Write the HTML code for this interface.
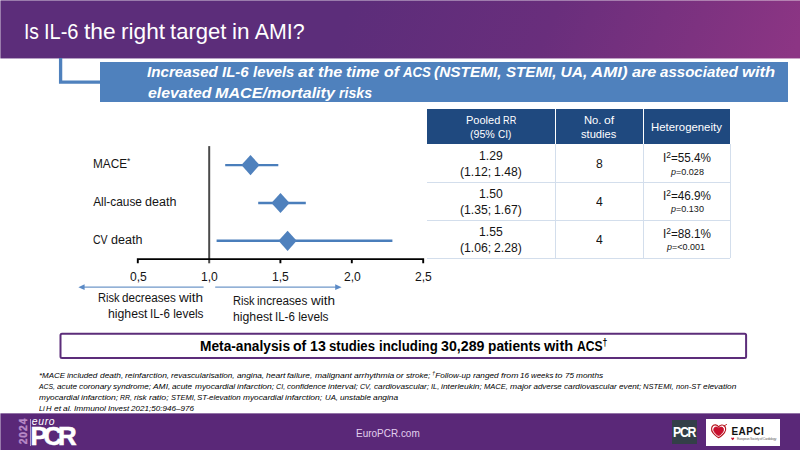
<!DOCTYPE html>
<html lang="en"><head><meta charset="utf-8"><title>Is IL-6 the right target in AMI?</title>
<style>
html,body{margin:0;padding:0;background:#fff;}
body{width:800px;height:450px;overflow:hidden;font-family:"Liberation Sans",sans-serif;}
#slide{position:relative;width:800px;height:450px;overflow:hidden;background:#fff;}
.t{position:absolute;white-space:nowrap;line-height:1;font-family:"Liberation Sans",sans-serif;transform-origin:0 50%;}
.w{position:absolute;top:0;white-space:nowrap;transform-origin:0 50%;}
.t sup{font-size:72%;vertical-align:baseline;position:relative;top:-0.5em;line-height:0;}
.a{position:absolute;}

</style></head><body>
<div id="slide">
<!-- header -->
<div class="a" style="left:0;top:0;width:800px;height:58px;background:linear-gradient(112deg,#5c2d7a 0%,#5c2d7a 43%,#692e7c 68%,#7d3280 86%,#8c3584 99%);"></div>
<div class="a" style="left:0;top:58px;width:800px;height:1px;background:linear-gradient(112deg,#5c2d7a 0%,#5c2d7a 43%,#692e7c 68%,#7d3280 86%,#8c3584 99%);opacity:.45;"></div>
<div class="a" style="left:0;top:0;width:800px;height:1px;background:rgba(255,255,255,.38);"></div>
<div class="a" style="left:0;top:0;width:1px;height:59px;background:rgba(255,255,255,.38);"></div>
<!-- subtitle bar -->
<div class="a" style="left:100px;top:62px;width:688px;height:40px;background:#4f81bd;"></div>
<!-- vector layer: connector, forest plot, arrows, box -->
<svg class="a" style="left:0;top:0" width="800" height="450" viewBox="0 0 800 450">
  <path d="M60.6 58V82.1H100.5" fill="none" stroke="#4f81bd" stroke-width="3.3"/>
  <line x1="209.2" y1="146.1" x2="209.2" y2="263.3" stroke="#4a4a4a" stroke-width="2"/>
  <path d="M137.8 263.3V259.1H423.2V263.3 M280.4 259.1V263.3 M351.8 259.1V263.3" fill="none" stroke="#000" stroke-width="1.9"/>
  <g stroke="#4a7ebb" stroke-width="2.4">
    <line x1="225.2" y1="165.1" x2="278.3" y2="165.1"/>
    <line x1="258.2" y1="203" x2="305.8" y2="203"/>
    <line x1="216.6" y1="240.8" x2="392.4" y2="240.8"/>
  </g>
  <g fill="#4f81bd">
    <path d="M250.5 155.0L259.6 165.1L250.5 175.2L241.4 165.1Z"/>
    <path d="M280.5 192.9L289.6 203L280.5 213.1L271.4 203Z"/>
    <path d="M287.6 230.7L296.7 240.8L287.6 250.9L278.5 240.8Z"/>
  </g>
  <g stroke="#6f97c9" stroke-width="1.2">
    <line x1="83" y1="287.2" x2="203.6" y2="287.2"/>
    <line x1="215.2" y1="287.2" x2="336" y2="287.2"/>
  </g>
  <path d="M78.4 287.2L84.6 284.3V290.1Z M341.6 287.2L335.2 284.3V290.1Z" fill="#5b8ac6"/>
  <rect x="60.5" y="333.8" width="685.6" height="24.2" rx="1.5" fill="#fff" stroke="#5c2d7a" stroke-width="2"/>
</svg>
<!-- table -->
<div class="a" style="left:427px;top:109px;width:303.2px;height:34.7px;background:#1f497f;"></div>
<div class="a" style="left:555px;top:109px;width:1px;height:34.7px;background:#fff;"></div>
<div class="a" style="left:642.6px;top:109px;width:1px;height:34.7px;background:#fff;"></div>
<div class="a" style="left:427px;top:182px;width:303.2px;height:1px;background:#d3deec;"></div>
<div class="a" style="left:427px;top:219.5px;width:303.2px;height:1px;background:#d3deec;"></div>
<div class="a" style="left:427px;top:257.5px;width:303.2px;height:1px;background:#d3deec;"></div>
<div class="a" style="left:555px;top:143.7px;width:1px;height:114px;background:#d3deec;"></div>
<div class="a" style="left:642.6px;top:143.7px;width:1px;height:114px;background:#d3deec;"></div>
<div class="a" style="left:729.6px;top:143.7px;width:1px;height:114.5px;background:#d3deec;"></div>
<!-- footer -->
<div class="a" style="left:0;top:413px;width:800px;height:37px;background:#5a2878;"></div>
<div class="a" style="left:0;top:413px;width:800px;height:1px;background:rgba(255,255,255,.35);"></div>
<div class="a" style="left:0;top:413px;width:1px;height:37px;background:rgba(255,255,255,.38);"></div>
<div class="a" style="left:29.6px;top:419.2px;width:1px;height:26.4px;background:#b89ccb;"></div>
<div class="a" style="left:672px;top:419.6px;width:24.8px;height:24.6px;background:#333f48;"></div>
<div class="a" style="left:706.2px;top:418.7px;width:74.2px;height:27.3px;background:#fff;"></div>

<span id="title" class="t" style="left:23.91px;top:22.30px;font-size:21.38px;color:#fff;"><span class="w" style="left:0.00px;transform:scaleX(0.899)">Is</span> <span class="w" style="left:20.23px;transform:scaleX(0.937)">IL-6</span> <span class="w" style="left:60.03px;transform:scaleX(1.063)">the</span> <span class="w" style="left:96.87px;transform:scaleX(1.062)">right</span> <span class="w" style="left:146.31px;transform:scaleX(1.032)">target</span> <span class="w" style="left:207.99px;transform:scaleX(1.055)">in</span> <span class="w" style="left:230.81px">AMI?</span></span>
<span id="sub1" class="t" style="left:147.17px;top:64.30px;font-size:15.56px;color:#fff;font-weight:bold;font-style:italic;"><span class="w" style="left:0.00px;transform:scaleX(0.976)">Increased</span> <span class="w" style="left:74.92px;transform:scaleX(0.966)">IL-6</span> <span class="w" style="left:105.66px;transform:scaleX(0.957)">levels</span> <span class="w" style="left:151.08px;transform:scaleX(1.124)">at</span> <span class="w" style="left:170.66px;transform:scaleX(1.040)">the</span> <span class="w" style="left:198.95px;transform:scaleX(1.045)">time</span> <span class="w" style="left:236.39px;transform:scaleX(1.021)">of</span> <span class="w" style="left:255.42px;transform:scaleX(0.849)">ACS</span> <span class="w" style="left:287.31px;transform:scaleX(0.990)">(NSTEMI,</span> <span class="w" style="left:358.92px;transform:scaleX(0.972)">STEMI,</span> <span class="w" style="left:413.33px">UA,</span> <span class="w" style="left:444.05px;transform:scaleX(1.086)">AMI)</span> <span class="w" style="left:484.66px;transform:scaleX(1.044)">are</span> <span class="w" style="left:513.05px;transform:scaleX(0.969)">associated</span> <span class="w" style="left:595.00px;transform:scaleX(1.066)">with</span></span>
<span id="sub2" class="t" style="left:147.77px;top:85.30px;font-size:15.56px;color:#fff;font-weight:bold;font-style:italic;"><span class="w" style="left:0.00px;transform:scaleX(1.020)">elevated</span> <span class="w" style="left:67.53px;transform:scaleX(1.036)">MACE/mortality</span> <span class="w" style="left:191.52px;transform:scaleX(0.909)">risks</span></span>
<span id="lab1" class="t" style="left:93.20px;top:159.30px;font-size:11.87px;transform:scaleX(0.995);color:#141414;">MACE<sup>*</sup></span>
<span id="lab2" class="t" style="left:93.20px;top:197.30px;font-size:11.87px;color:#141414;"><span class="w" style="left:0.00px">All-cause</span> <span class="w" style="left:51.69px;transform:scaleX(1.057)">death</span></span>
<span id="lab3" class="t" style="left:93.20px;top:235.30px;font-size:11.87px;color:#141414;"><span class="w" style="left:0.00px;transform:scaleX(0.890)">CV</span> <span class="w" style="left:17.69px;transform:scaleX(1.057)">death</span></span>
<span id="tk1" class="t" style="left:129.70px;top:272.30px;font-size:11.87px;transform:scaleX(1.021);color:#141414;">0,5</span>
<span id="tk2" class="t" style="left:200.90px;top:272.30px;font-size:11.87px;transform:scaleX(1.021);color:#141414;">1,0</span>
<span id="tk3" class="t" style="left:272.30px;top:272.30px;font-size:11.87px;transform:scaleX(1.021);color:#141414;">1,5</span>
<span id="tk4" class="t" style="left:343.70px;top:272.30px;font-size:11.87px;transform:scaleX(1.021);color:#141414;">2,0</span>
<span id="tk5" class="t" style="left:414.80px;top:272.30px;font-size:11.87px;transform:scaleX(1.021);color:#141414;">2,5</span>
<span id="rd1" class="t" style="left:97.70px;top:293.30px;font-size:11.87px;color:#141414;"><span class="w" style="left:0.00px;transform:scaleX(0.936)">Risk</span> <span class="w" style="left:24.59px;transform:scaleX(0.984)">decreases</span> <span class="w" style="left:81.44px;transform:scaleX(1.141)">with</span></span>
<span id="rd2" class="t" style="left:107.90px;top:309.30px;font-size:11.87px;color:#141414;"><span class="w" style="left:0.00px;transform:scaleX(1.033)">highest</span> <span class="w" style="left:42.52px;transform:scaleX(0.969)">IL-6</span> <span class="w" style="left:65.34px">levels</span></span>
<span id="ri1" class="t" style="left:232.90px;top:296.30px;font-size:11.87px;color:#141414;"><span class="w" style="left:0.00px;transform:scaleX(0.936)">Risk</span> <span class="w" style="left:24.59px;transform:scaleX(0.990)">increases</span> <span class="w" style="left:77.86px;transform:scaleX(1.141)">with</span></span>
<span id="ri2" class="t" style="left:232.90px;top:312.30px;font-size:11.87px;color:#141414;"><span class="w" style="left:0.00px;transform:scaleX(1.033)">highest</span> <span class="w" style="left:42.52px;transform:scaleX(0.969)">IL-6</span> <span class="w" style="left:65.34px">levels</span></span>
<span id="h1a" class="t" style="left:465.73px;top:115.30px;font-size:10.88px;color:#fff;"><span class="w" style="left:0.00px;transform:scaleX(1.012)">Pooled</span> <span class="w" style="left:37.03px;transform:scaleX(0.845)">RR</span></span>
<span id="h1b" class="t" style="left:470.33px;top:129.30px;font-size:10.88px;color:#fff;"><span class="w" style="left:0.00px;transform:scaleX(0.978)">(95%</span> <span class="w" style="left:27.59px;transform:scaleX(0.918)">CI)</span></span>
<span id="h2a" class="t" style="left:583.73px;top:115.30px;font-size:10.88px;color:#fff;"><span class="w" style="left:0.00px;transform:scaleX(1.029)">No.</span> <span class="w" style="left:20.19px;transform:scaleX(1.122)">of</span></span>
<span id="h2b" class="t" style="left:581.43px;top:129.30px;font-size:10.88px;transform:scaleX(1.023);color:#fff;">studies</span>
<span id="h3" class="t" style="left:651.03px;top:122.30px;font-size:10.88px;transform:scaleX(1.046);color:#fff;">Heterogeneity</span>
<span id="r0a" class="t" style="left:479.40px;top:151.30px;font-size:11.87px;transform:scaleX(1.024);color:#141414;">1.29</span>
<span id="r0b" class="t" style="left:460.00px;top:167.30px;font-size:11.87px;color:#141414;"><span class="w" style="left:0.00px;transform:scaleX(1.030)">(1.12;</span> <span class="w" style="left:34.27px;transform:scaleX(1.024)">1.48)</span></span>
<span id="r0c" class="t" style="left:595.50px;top:159.30px;font-size:11.87px;transform:scaleX(1.024);color:#141414;">8</span>
<span id="r0d" class="t" style="left:662.80px;top:153.30px;font-size:11.87px;transform:scaleX(0.988);color:#141414;">I<sup>2</sup>=55.4%</span>
<span id="r0e" class="t" style="left:670.50px;top:168.30px;font-size:8.9px;transform:scaleX(1.018);color:#141414;"><i>p</i>=0.028</span>
<span id="r1a" class="t" style="left:479.40px;top:189.30px;font-size:11.87px;transform:scaleX(1.024);color:#141414;">1.50</span>
<span id="r1b" class="t" style="left:460.00px;top:205.30px;font-size:11.87px;color:#141414;"><span class="w" style="left:0.00px;transform:scaleX(1.030)">(1.35;</span> <span class="w" style="left:34.27px;transform:scaleX(1.024)">1.67)</span></span>
<span id="r1c" class="t" style="left:595.50px;top:197.30px;font-size:11.87px;transform:scaleX(1.024);color:#141414;">4</span>
<span id="r1d" class="t" style="left:662.80px;top:191.30px;font-size:11.87px;transform:scaleX(0.988);color:#141414;">I<sup>2</sup>=46.9%</span>
<span id="r1e" class="t" style="left:670.50px;top:205.30px;font-size:8.9px;transform:scaleX(1.018);color:#141414;"><i>p</i>=0.130</span>
<span id="r2a" class="t" style="left:479.40px;top:227.30px;font-size:11.87px;transform:scaleX(1.024);color:#141414;">1.55</span>
<span id="r2b" class="t" style="left:460.00px;top:243.30px;font-size:11.87px;color:#141414;"><span class="w" style="left:0.00px;transform:scaleX(1.030)">(1.06;</span> <span class="w" style="left:34.27px;transform:scaleX(1.024)">2.28)</span></span>
<span id="r2c" class="t" style="left:595.50px;top:235.30px;font-size:11.87px;transform:scaleX(1.024);color:#141414;">4</span>
<span id="r2d" class="t" style="left:662.80px;top:229.30px;font-size:11.87px;transform:scaleX(0.988);color:#141414;">I<sup>2</sup>=88.1%</span>
<span id="r2e" class="t" style="left:667.40px;top:243.30px;font-size:8.9px;transform:scaleX(1.011);color:#141414;"><i>p</i>=&lt;0.001</span>
<span id="box" class="t" style="left:199.83px;top:339.30px;font-size:14.31px;color:#000;font-weight:bold;"><span class="w" style="left:0.00px;transform:scaleX(0.960)">Meta-analysis</span> <span class="w" style="left:93.50px;transform:scaleX(0.984)">of</span> <span class="w" style="left:110.30px;transform:scaleX(0.991)">13</span> <span class="w" style="left:129.58px;transform:scaleX(0.918)">studies</span> <span class="w" style="left:179.05px;transform:scaleX(0.924)">including</span> <span class="w" style="left:241.28px;transform:scaleX(0.993)">30,289</span> <span class="w" style="left:288.22px;transform:scaleX(0.959)">patients</span> <span class="w" style="left:344.33px;transform:scaleX(1.019)">with</span> <span class="w" style="left:376.98px;transform:scaleX(0.846)">ACS<sup>&dagger;</sup></span></span>
<span id="f1" class="t" style="left:39.33px;top:372.30px;font-size:7.98px;color:#000;font-style:italic;"><span class="w" style="left:0.00px;transform:scaleX(0.995)">*MACE</span> <span class="w" style="left:28.02px;transform:scaleX(1.023)">included</span> <span class="w" style="left:60.40px;transform:scaleX(1.047)">death,</span> <span class="w" style="left:85.62px;transform:scaleX(1.062)">reinfarction,</span> <span class="w" style="left:131.85px;transform:scaleX(1.026)">revascularisation,</span> <span class="w" style="left:197.50px;transform:scaleX(1.038)">angina,</span> <span class="w" style="left:226.68px;transform:scaleX(1.071)">heart</span> <span class="w" style="left:248.16px;transform:scaleX(1.061)">failure,</span> <span class="w" style="left:275.57px;transform:scaleX(1.068)">malignant</span> <span class="w" style="left:314.51px;transform:scaleX(1.072)">arrhythmia</span> <span class="w" style="left:356.89px;transform:scaleX(1.076)">or</span> <span class="w" style="left:366.54px;transform:scaleX(1.019)">stroke;</span> <span class="w" style="left:392.92px;transform:scaleX(1.022)"><sup>&dagger;</sup>Follow-up</span> <span class="w" style="left:433.54px;transform:scaleX(1.032)">ranged</span> <span class="w" style="left:461.18px;transform:scaleX(1.091)">from</span> <span class="w" style="left:480.59px;transform:scaleX(1.017)">16</span> <span class="w" style="left:491.64px;transform:scaleX(0.988)">weeks</span> <span class="w" style="left:515.97px;transform:scaleX(1.118)">to</span> <span class="w" style="left:525.44px;transform:scaleX(1.017)">75</span> <span class="w" style="left:536.49px;transform:scaleX(1.038)">months</span></span>
<span id="f2" class="t" style="left:38.63px;top:383.30px;font-size:7.98px;color:#000;font-style:italic;"><span class="w" style="left:0.00px;transform:scaleX(0.856)">ACS,</span> <span class="w" style="left:17.97px;transform:scaleX(1.032)">acute</span> <span class="w" style="left:40.12px;transform:scaleX(1.040)">coronary</span> <span class="w" style="left:74.41px;transform:scaleX(1.020)">syndrome;</span> <span class="w" style="left:114.39px;transform:scaleX(1.057)">AMI,</span> <span class="w" style="left:133.75px;transform:scaleX(1.032)">acute</span> <span class="w" style="left:155.91px;transform:scaleX(1.043)">myocardial</span> <span class="w" style="left:198.12px;transform:scaleX(1.078)">infarction;</span> <span class="w" style="left:237.42px;transform:scaleX(0.900)">CI,</span> <span class="w" style="left:248.62px;transform:scaleX(1.012)">confidence</span> <span class="w" style="left:289.67px;transform:scaleX(1.073)">interval;</span> <span class="w" style="left:321.66px;transform:scaleX(0.887)">CV,</span> <span class="w" style="left:334.95px;transform:scaleX(1.028)">cardiovascular;</span> <span class="w" style="left:392.08px;transform:scaleX(0.938)">IL,</span> <span class="w" style="left:402.44px;transform:scaleX(1.060)">interleukin;</span> <span class="w" style="left:445.34px;transform:scaleX(0.947)">MACE,</span> <span class="w" style="left:471.30px;transform:scaleX(1.078)">major</span> <span class="w" style="left:494.83px">adverse</span> <span class="w" style="left:525.17px;transform:scaleX(1.025)">cardiovascular</span> <span class="w" style="left:579.89px;transform:scaleX(1.032)">event;</span> <span class="w" style="left:604.33px;transform:scaleX(0.948)">NSTEMI,</span> <span class="w" style="left:637.00px;transform:scaleX(0.953)">non-ST</span> <span class="w" style="left:663.94px;transform:scaleX(1.045)">elevation</span></span>
<span id="f3" class="t" style="left:38.63px;top:394.30px;font-size:7.98px;color:#000;font-style:italic;"><span class="w" style="left:0.00px;transform:scaleX(1.043)">myocardial</span> <span class="w" style="left:42.22px;transform:scaleX(1.078)">infarction;</span> <span class="w" style="left:81.52px;transform:scaleX(0.871)">RR,</span> <span class="w" style="left:95.52px;transform:scaleX(1.023)">risk</span> <span class="w" style="left:110.23px;transform:scaleX(1.109)">ratio;</span> <span class="w" style="left:131.92px;transform:scaleX(0.936)">STEMI,</span> <span class="w" style="left:158.83px;transform:scaleX(0.994)">ST-elevation</span> <span class="w" style="left:204.59px;transform:scaleX(1.043)">myocardial</span> <span class="w" style="left:246.81px;transform:scaleX(1.078)">infarction;</span> <span class="w" style="left:286.11px;transform:scaleX(0.980)">UA,</span> <span class="w" style="left:301.17px;transform:scaleX(1.029)">unstable</span> <span class="w" style="left:334.22px;transform:scaleX(1.048)">angina</span></span>
<span id="f4" class="t" style="left:38.63px;top:405.30px;font-size:7.98px;color:#000;font-style:italic;"><span class="w" style="left:0.00px;transform:scaleX(0.929)">Li</span> <span class="w" style="left:7.77px;transform:scaleX(0.960)">H</span> <span class="w" style="left:15.31px;transform:scaleX(1.075)">et</span> <span class="w" style="left:24.48px;transform:scaleX(1.048)">al.</span> <span class="w" style="left:35.31px;transform:scaleX(1.045)">Immunol</span> <span class="w" style="left:69.25px;transform:scaleX(0.993)">Invest</span> <span class="w" style="left:92.38px;transform:scaleX(1.016)">2021;50:946&ndash;976</span></span>
<span id="url" class="t" style="left:356.25px;top:429.30px;font-size:10.38px;transform:scaleX(0.961);color:#e2cfee;">EuroPCR.com</span>
<!-- footer logos -->
<span class="t" id="y2024" style="left:23.9px;top:431.4px;font-size:10.2px;letter-spacing:1px;color:#b98bc8;font-weight:bold;-webkit-text-stroke:0.35px #b98bc8;transform:translate(-50%,-50%) rotate(-90deg);transform-origin:50% 50%;">2024</span>
<span class="t" id="euro" style="left:31.7px;top:416.9px;font-size:10.4px;letter-spacing:0.7px;color:#fff;font-style:italic;">euro</span>
<span class="t" id="pcr" style="left:30.4px;top:423.6px;font-size:25.8px;letter-spacing:-4.1px;color:#fff;font-weight:bold;-webkit-text-stroke:0.6px #fff;">PCR</span>
<span class="t" id="pcr2" style="left:672.7px;top:425.1px;font-size:14.6px;letter-spacing:-1.5px;color:#fff;font-weight:bold;transform:scaleX(0.845);">PCR</span>
<svg class="a" style="left:709px;top:421px" width="20" height="20" viewBox="0 0 20 20">
  <path d="M9.6 6C8.4 3.4 4.6 3.2 3.2 5.6C1.8 8.2 3.2 11.4 5.6 13.6C7 14.9 8.6 16.2 9.6 16.7C10.8 16.2 12.4 14.9 13.8 13.5C16.2 11.2 17.4 8 16 5.6C14.6 3.3 10.8 3.5 9.6 6Z" fill="#fff" stroke="#b5121b" stroke-width="1.15"/>
  <path d="M9.6 7.6C8.8 5.7 6.1 5.5 5.1 7.1C4.1 8.9 5.1 11.1 6.9 12.7C7.9 13.6 8.9 14.4 9.6 14.8C10.4 14.4 11.5 13.6 12.5 12.6C14.2 10.9 15.1 8.8 14.1 7.1C13.1 5.6 10.4 5.8 9.6 7.6Z" fill="#c8102e" stroke="#c8102e" stroke-width="0.9"/>
  <path d="M14.6 5.2L17.9 3.3" stroke="#b5121b" stroke-width="0.9" fill="none"/>
</svg>
<span class="t" id="eapci" style="left:731.5px;top:426.9px;font-size:10px;letter-spacing:0.42px;color:#111;font-weight:bold;">EAPCI</span>
<svg class="a" style="left:731.4px;top:437.3px" width="3.4" height="3.4" viewBox="0 0 20 20"><path d="M10 6C8 1 1 2 1 8C1 13 7 17 10 19C13 17 19 13 19 8C19 2 12 1 10 6Z" fill="#c8102e"/></svg>
<span class="t" id="esc" style="left:736.9px;top:437.9px;font-size:3.4px;letter-spacing:-0.28px;color:#6b6b6b;">European Society of Cardiology</span>

</div>
</body></html>
